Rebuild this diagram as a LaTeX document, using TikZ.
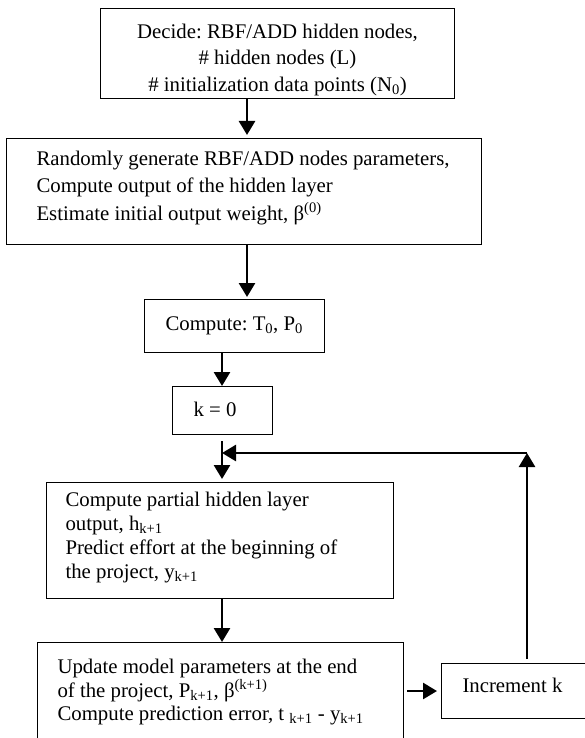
\documentclass[tikz,border=0pt]{standalone}
\usepackage{fontspec}
\setmainfont{Liberation Serif}
\usetikzlibrary{arrows.meta}
\frenchspacing

\tikzset{
  box/.style={draw, line width=1pt, anchor=north west, inner ysep=0pt,
    align=flush left, font=\fontsize{20.8}{24}\selectfont},
  arr/.style={line width=2.6pt, -{Triangle[width=16pt,length=14pt]}},
}

\begin{document}
\begin{tikzpicture}[x=1pt, y=-1pt]
  \clip (0,0) rectangle (585,738);
  % the two columns the downward arrows run along
  \coordinate (upper) at (247,0);
  \coordinate (lower) at (222,0);
  \coordinate (back) at (527,453);

  \node[box, align=flush center, inner xsep=20pt, text width=314pt,
        text height=30pt, text depth=60pt,
        font=\fontsize{20.8}{26.5}\selectfont] (decide) at (100,8)
    {Decide: RBF/ADD hidden nodes,\\ \# hidden nodes (L)\\
     \# initialization data points (N\textsubscript{0})};
  \node[box, inner xsep=30pt, text width=415pt,
        text height=27pt, text depth=79pt,
        font=\fontsize{20.8}{27.5}\selectfont] (init) at (6,138)
    {\mbox{Randomly generate RBF/ADD nodes parameters,}\\
     Compute output of the hidden layer\\
     Estimate initial output weight, β\textsuperscript{(0)}};
  \node[box, inner xsep=21pt, text width=138pt,
        text height=31pt, text depth=22pt] (tzero) at (144,299)
    {\mbox{Compute: T\textsubscript{0}, P\textsubscript{0}}};
  \node[box, inner xsep=21pt, text width=58pt,
        text height=30pt, text depth=18pt] (kzero) at (172,386)
    {k = 0};
  \node[box, inner xsep=19pt, text width=309pt,
        text height=24pt, text depth=92pt] (partial) at (46,482)
    {Compute partial hidden layer\\
     output, h\textsubscript{k+1}\\
     Predict effort at the beginning of\\
     the project, y\textsubscript{k+1}};
  \node[box, inner xsep=20pt, text width=326pt,
        text height=31pt, text depth=100pt,
        font=\fontsize{20.8}{23.5}\selectfont] (update) at (37,642)
    {Update model parameters at the end\\
     of the project, P\textsubscript{k+1}, β\textsuperscript{(k+1)}\\
     Compute prediction error, t \textsubscript{k+1} - y\textsubscript{k+1}};
  \node[box, inner xsep=21pt, text width=150pt,
        text height=29pt, text depth=26pt] (incr) at (441,663)
    {Increment k};

  % main flow
  \draw[arr, shorten >=3pt] (decide.south -| upper) -- (init.north -| upper);
  \draw[arr, shorten >=2pt] (init.south -| upper) -- (tzero.north -| upper);
  \draw[arr] (tzero.south -| lower) -- (kzero.north -| lower);
  \draw[arr, shorten <=6pt, shorten >=3pt] (kzero.south -| lower) -- (partial.north -| lower);
  \draw[arr] (partial.south -| lower) -- (update.north -| lower);
  \draw[arr, shorten <=3pt, shorten >=4pt] (update.east |- incr) -- (incr.west);

  % loop back
  \draw[arr, shorten <=4pt] (incr.north -| back) -- (back);
  \draw[arr] (back) -- (back -| lower);
\end{tikzpicture}
\end{document}
